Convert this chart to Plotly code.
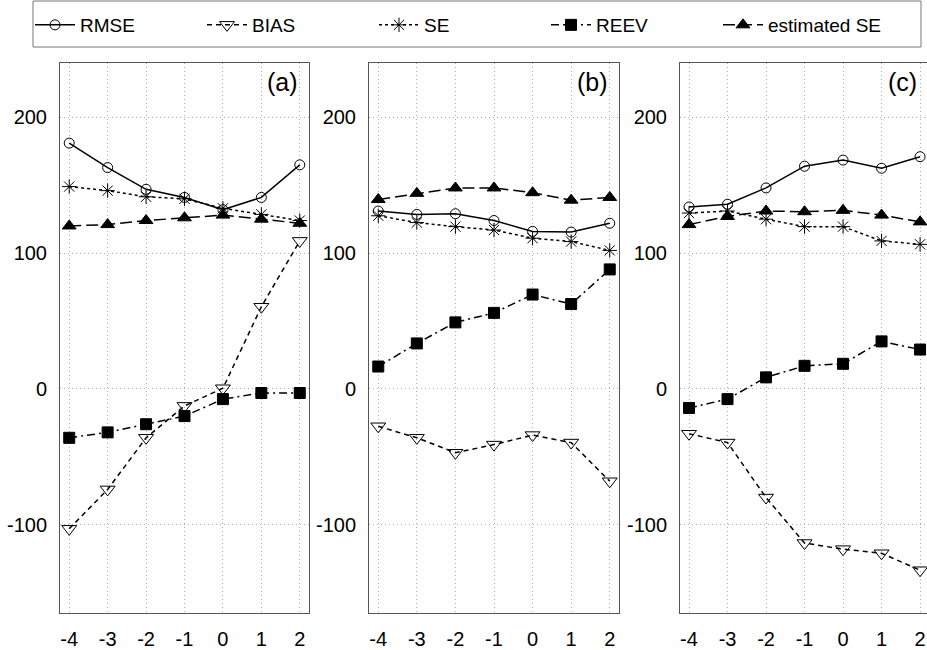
import plotly.graph_objects as go

x_vals = [-4, -3, -2, -1, 0, 1, 2]
x_tick_text = ["-4", "-3", "-2", "-1", "0", "1", "2"]
panel_labels = ["(a)", "(b)", "(c)"]
y_ticks = [-100, 0, 100, 200]
y_tick_text = ["-100", "0", "100", "200"]

# Panel (a)
rmse_a = [181, 163, 147, 141, 132, 141, 165]
bias_a = [-103, -74, -36, -12.5, 0.5, 60.5, 109]
se_a = [149, 146, 141.5, 140, 133, 128.5, 124]
reev_a = [-36, -32, -26, -20, -7.5, -3, -3]
estse_a = [120, 121, 124, 126, 128, 125, 122]

# Panel (b)
rmse_b = [131, 128.5, 129, 124, 116, 115.5, 122]
bias_b = [-27.5, -36, -47, -41, -34, -39.5, -68]
se_b = [127.5, 122.5, 119.5, 117, 111, 108.5, 102]
reev_b = [16.5, 33.5, 49, 56, 69.5, 62.5, 88]
estse_b = [139.5, 144, 148, 148, 144.5, 139, 141]

# Panel (c)
rmse_c = [134, 136, 148, 164, 168.5, 162.5, 171]
bias_c = [-33, -39.5, -80, -113.5, -118, -121, -133.5]
se_c = [129.5, 131, 125, 119.5, 119.5, 109, 106.5]
reev_c = [-14, -7.5, 8.5, 17, 18.5, 35, 29]
estse_c = [121, 127, 131, 130.5, 131.5, 128, 123]

series_names = ["RMSE", "BIAS", "SE", "REEV", "estimated SE"]
panels = [
    [rmse_a, bias_a, se_a, reev_a, estse_a],
    [rmse_b, bias_b, se_b, reev_b, estse_b],
    [rmse_c, bias_c, se_c, reev_c, estse_c],
]

styles = {
    "RMSE": dict(dash="solid", symbol="circle-open", size=10, width=1.5),
    "BIAS": dict(dash="5px,4px", symbol="triangle-down-open", size=13, width=1.5),
    "SE": dict(dash="dot", symbol="asterisk-open", size=12, width=1.5),
    "REEV": dict(dash="8px,4px,2px,4px", symbol="square", size=11, width=1.5),
    "estimated SE": dict(dash="12px,5px", symbol="triangle-up", size=12, width=1.5),
}

W, H = 927, 650
x_domains_px = [(60, 309), (369, 619), (680, 927)]
x_ranges = [[-4.24, 2.24], [-4.24, 2.24], [-4.234, 2.18]]
y_dom = [1 - 613 / H, 1 - 63 / H]
y_range = [-165, 240]

fig = go.Figure()
font_family = "Arial"

for p, data in enumerate(panels):
    xa = "x" if p == 0 else f"x{p+1}"
    ya = "y" if p == 0 else f"y{p+1}"
    for name, vals in zip(series_names, data):
        st = styles[name]
        fig.add_trace(go.Scatter(
            x=x_vals, y=vals, xaxis=xa, yaxis=ya, name=name,
            mode="lines+markers", showlegend=(p == 0), cliponaxis=True,
            line=dict(color="black", width=st["width"], dash=st["dash"]),
            marker=dict(symbol=st["symbol"], size=st["size"], color="black",
                        line=dict(color="black", width=1)),
        ))

layout = dict(
    width=W, height=H, margin=dict(l=0, r=0, t=0, b=0),
    plot_bgcolor="white", paper_bgcolor="white",
    font=dict(family=font_family, size=20, color="black"),
    showlegend=True,
    legend=dict(orientation="h", x=30 / W, y=1 - 6 / H, xanchor="left", yanchor="top",
                borderwidth=0, font=dict(size=19),
                itemwidth=40, entrywidth=117, entrywidthmode="pixels",
                bgcolor="rgba(0,0,0,0)"),
    shapes=[dict(type="rect", xref="paper", yref="paper",
                 x0=33 / W, x1=921 / W, y0=1 - 47 / H, y1=1 - 1 / H,
                 line=dict(color="#777777", width=1), fillcolor="rgba(0,0,0,0)",
                 layer="below")],
)

annotations = []
for p in range(3):
    sfx = "" if p == 0 else str(p + 1)
    d0, d1 = x_domains_px[p]
    common = dict(
        ticks="", showline=True, linecolor="#555555", linewidth=1, mirror=True,
        showgrid=True, gridcolor="#b0b0b0", griddash="1px,3px", gridwidth=1,
        zeroline=False, ticklabelstandoff=8, tickfont=dict(size=20),
    )
    layout[f"xaxis{sfx}"] = dict(
        domain=[d0 / W, min(d1 / W, 1.0)], range=x_ranges[p], anchor=f"y{sfx}",
        tickvals=x_vals, ticktext=x_tick_text, **common,
    )
    layout[f"yaxis{sfx}"] = dict(
        domain=y_dom, range=y_range, anchor=f"x{sfx}",
        tickvals=y_ticks, ticktext=y_tick_text, **common,
    )
    right_px = 300 if p == 0 else (610 if p == 1 else 919)
    annotations.append(dict(
        text=panel_labels[p], xref=f"x{sfx} domain", yref=f"y{sfx} domain",
        x=(right_px - d0) / (d1 - d0),
        y=(613 - 82) / 550, xanchor="right", yanchor="middle", showarrow=False,
        font=dict(size=25, color="black"),
    ))

layout["annotations"] = annotations
fig.update_layout(**layout)
fig.write_html("out.html")
